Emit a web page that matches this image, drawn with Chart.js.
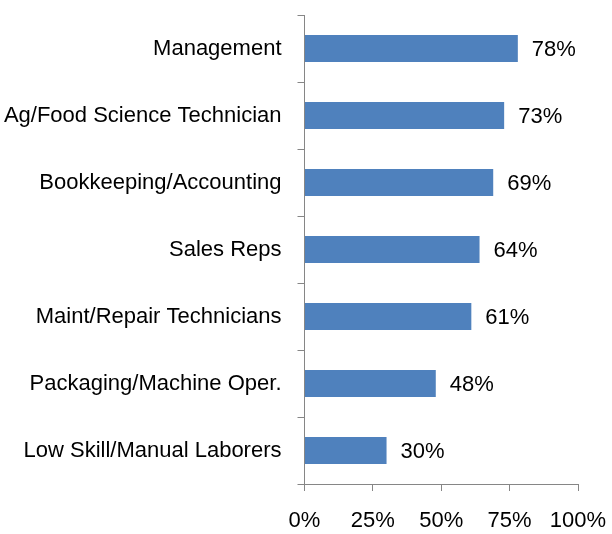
<!DOCTYPE html>
<html>
<head>
<meta charset="utf-8">
<script src="https://cdn.jsdelivr.net/npm/chart.js@4"></script>
<style>
  html, body { margin: 0; padding: 0; background: #fff; }
  #wrap { width: 612px; height: 534px; }
</style>
</head>
<body>
<div id="wrap"><canvas id="grafico"></canvas></div>
<script>
const categorias = ['Management', 'Ag/Food Science Technician', 'Bookkeeping/Accounting', 'Sales Reps', 'Maint/Repair Technicians', 'Packaging/Machine Oper.', 'Low Skill/Manual Laborers'];
const valores = [78, 73, 69, 64, 61, 48, 30];
const ticksX = [0, 25, 50, 75, 100];

// rótulos de valor à direita de cada barra
const rotulos = {
    id: 'rotulos',
    afterDatasetsDraw(chart) {
        const ctx = chart.ctx;
        const meta = chart.getDatasetMeta(0);
        ctx.save();
        ctx.font = '22px "Liberation Sans"';
        ctx.fillStyle = '#000';
        ctx.textAlign = 'left';
        ctx.textBaseline = 'middle';
        meta.data.forEach(function (bar, i) {
            ctx.fillText(valores[i] + '%', bar.x + 14, bar.y + 1);
        });
        ctx.restore();
    }
};

new Chart(document.getElementById('grafico').getContext('2d'), {
    type: 'bar',
    data: {
        labels: categorias,
        datasets: [{
            data: valores,
            backgroundColor: '#4f81bd',
            borderColor: '#4f81bd',
            borderWidth: 0,
            barPercentage: 0.4,
            categoryPercentage: 1
        }]
    },
    options: {
        indexAxis: 'y',
        responsive: true,
        maintainAspectRatio: false,
        animation: false,
        layout: { padding: { top: 15, right: 34, bottom: 0, left: 0 } },
        plugins: {
            legend: { display: false },
            tooltip: { enabled: false }
        },
        scales: {
            x: {
                min: 0,
                max: 100,
                afterBuildTicks: function (axis) {
                    axis.ticks = ticksX.map(function (v) { return { value: v }; });
                },
                afterFit: function (axis) {
                    axis.height = 50;
                    axis.paddingLeft = 0;
                    axis.paddingRight = 0;
                },
                grid: {
                    drawOnChartArea: false,
                    drawTicks: true,
                    tickLength: 7,
                    color: '#868686'
                },
                border: { color: '#868686', width: 1 },
                ticks: {
                    color: '#000',
                    padding: 17,
                    maxRotation: 0,
                    font: { size: 22, family: 'Liberation Sans' },
                    callback: function (v) { return v + '%'; }
                }
            },
            y: {
                afterFit: function (axis) {
                    axis.width = 304.5;
                    axis.paddingTop = 0;
                    axis.paddingBottom = 0;
                },
                grid: {
                    drawOnChartArea: false,
                    drawTicks: true,
                    tickLength: 7,
                    offset: true,
                    color: '#868686'
                },
                border: { color: '#868686', width: 1 },
                ticks: {
                    color: '#000',
                    padding: 16,
                    font: { size: 22, family: 'Liberation Sans' }
                }
            }
        }
    },
    plugins: [rotulos]
});
</script>
</body>
</html>
